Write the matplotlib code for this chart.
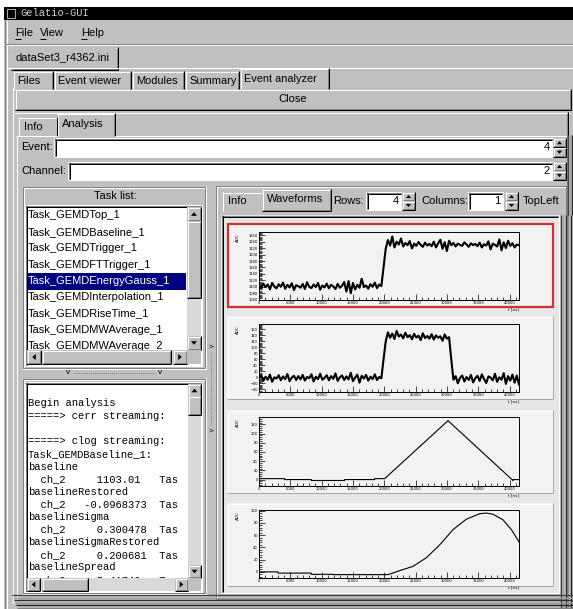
import numpy as np
import matplotlib
matplotlib.use('Agg')
import matplotlib.pyplot as plt
from matplotlib.patches import Rectangle, Polygon
from matplotlib.ticker import MultipleLocator

# ---- GUI content ----
menu_items = ['File', 'View', 'Help']
main_tabs = ['Files', 'Event viewer', 'Modules', 'Summary', 'Event analyzer']
tasks = ['Task_GEMDTop_1', 'Task_GEMDBaseline_1', 'Task_GEMDTrigger_1',
         'Task_GEMDFTTrigger_1', 'Task_GEMDEnergyGauss_1', 'Task_GEMDInterpolation_1',
         'Task_GEMDRiseTime_1', 'Task_GEMDMWAverage_1', 'Task_GEMDMWAverage_2']
selected_task = 4
log_lines = ['Begin analysis', '=====> cerr streaming:', '',
             '=====> clog streaming:', 'Task_GEMDBaseline_1:', 'baseline',
             '  ch_2     1103.01   Tas', 'baselineRestored',
             '  ch_2   -0.0968373  Tas', 'baselineSigma',
             '  ch_2     0.300478  Tas', 'baselineSigmaRestored',
             '  ch_2     0.200681  Tas', 'baselineSpread',
             '  ch_2     5.41740   Tas']
event_no = '4'
channel_no = '2'
rows_no = '4'
cols_no = '1'

# ---- waveform data ----
t_raw = np.linspace(0, 41500, 120)
adc_raw = [1104, 1096, 1110, 1099, 1107, 1092, 1112, 1101, 1095, 1108,
           1100, 1113, 1094, 1106, 1098, 1111, 1090, 1105, 1102, 1097,
           1109, 1093, 1114, 1100, 1096, 1107, 1099, 1112, 1091, 1104,
           1098, 1110, 1095, 1106, 1101, 1093, 1109, 1097, 1103, 1115,
           1085, 1118, 1080, 1112, 1092, 1106, 1097, 1125, 1099, 1104,
           1094, 1108, 1100, 1113, 1096, 1107, 1102,
           1160, 1218,
           1245, 1228, 1256, 1222, 1240, 1231, 1250, 1225, 1236, 1229, 1242,
           1219, 1234, 1227, 1239, 1230, 1224, 1237, 1228, 1233, 1226,
           1240, 1222, 1235, 1246, 1218, 1238, 1211, 1243, 1229, 1236,
           1225, 1234, 1230, 1227, 1238, 1231, 1224, 1235, 1229, 1233,
           1226, 1237, 1222, 1232, 1228, 1241, 1216, 1234, 1230, 1225,
           1247, 1213, 1238, 1220, 1243, 1227, 1235, 1222, 1231, 1229]
adc_restored = [-5, 6, -12, 2, -8, 9, -15, 0, -4, 7,
                -10, 3, -6, 11, -13, -1, 5, -9, 4, -7,
                8, -11, 1, -3, 10, -14, 2, -6, 12, -8,
                -2, 7, -10, 4, -5, 13, -12, 0, 6, -9,
                3, -7, 15, -13, -1, 9, -18, 5, -4, 8,
                -11, 2, -6, 10, -9, 1, -3,
                60, 120,
                150, 132, 146, 128, 155, 136, 143, 130, 149, 134, 141,
                127, 145, 133, 139, 124, 147, 131, 138, 129, 144,
                126, 140, 132, 137, 122, 143, 129, 134,
                60,
                -8, 4, -20, -2, 6, -14, 1, -9, 8, -17, -3,
                5, -12, 10, -6, -19, 3, -1, -10, 12, -15,
                0, -8, 14, -22, 4, -11, 9, -18, 6, -24]
trap_t = [0, 4100, 4100, 8350, 8350, 13670, 13670, 18460, 18460, 20060,
          30170, 40540, 40540, 41500]
trap_v = [2, 2, 0, 0, -2, -2, 0, 0, 2, 2, 128, -2, 0, 0]
gauss_t = [0, 3030, 3030, 8350, 8350, 11810, 11810, 20600, 22450, 24580,
           26710, 28840, 30970, 33100, 35230, 36290, 37350, 38950, 40280, 41500]
gauss_v = [0, 0, -2, -2, -4, -4, -4.5, -4.5, 2, 9,
           23, 44, 69, 86, 95, 96, 94, 85, 69, 49]

BG = '#c0c0c0'
DARK = '#808080'
TRACK = '#d9d9d9'
PAD = '#f2f2f2'
W, H = 573, 609

fig = plt.figure(figsize=(W / 100, H / 100), dpi=100)
fig.patch.set_facecolor('white')
g = fig.add_axes([0, 0, 1, 1])
g.set_xlim(0, W)
g.set_ylim(H, 0)
g.axis('off')

SANS = 'Liberation Sans'
MONO = 'Liberation Mono'


def rect(x0, y0, x1, y1, fc, z=1):
    g.add_patch(Rectangle((x0, y0), x1 - x0, y1 - y0, facecolor=fc,
                          edgecolor='none', zorder=z))


def hl(x0, x1, y, c, z=2, lw=1):
    g.plot([x0, x1], [y, y], color=c, lw=0.72 * lw, zorder=z, solid_capstyle='butt')


def vl(x, y0, y1, c, z=2, lw=1):
    g.plot([x, x], [y0, y1], color=c, lw=0.72 * lw, zorder=z, solid_capstyle='butt')


def raised(x0, y0, x1, y1, fc=BG, z=2):
    rect(x0, y0, x1, y1, fc, z)
    hl(x0, x1, y0 + 0.5, 'white', z)
    vl(x0 + 0.5, y0, y1, 'white', z)
    hl(x0, x1, y1 - 0.5, 'black', z)
    vl(x1 - 0.5, y0, y1, 'black', z)
    hl(x0 + 1, x1 - 1, y1 - 1.5, DARK, z)
    vl(x1 - 1.5, y0 + 1, y1 - 1, DARK, z)


def sunken(x0, y0, x1, y1, fc='white', z=2):
    rect(x0, y0, x1, y1, fc, z)
    hl(x0, x1, y0 + 0.5, DARK, z)
    vl(x0 + 0.5, y0, y1, DARK, z)
    hl(x0 + 1, x1 - 1, y0 + 1.5, 'black', z)
    vl(x0 + 1.5, y0 + 1, y1 - 1, 'black', z)
    hl(x0, x1, y1 - 0.5, 'white', z)
    vl(x1 - 0.5, y0, y1, 'white', z)


def etched(x0, y0, x1, y1, z=2):
    for off, c in ((0.5, DARK), (1.5, 'white')):
        hl(x0 + off, x1 - off, y0 + off, c, z)
        vl(x0 + off, y0 + off, y1 - off, c, z)
    hl(x0, x1, y1 - 0.5, 'white', z)
    vl(x1 - 0.5, y0, y1, 'white', z)
    hl(x0 + 1, x1 - 1, y1 - 1.5, DARK, z)
    vl(x1 - 1.5, y0 + 1, y1 - 1, DARK, z)


def arrow(cx, cy, d, s=2.8, z=4):
    pts = {'up': [(cx - s, cy + s * 0.6), (cx + s, cy + s * 0.6), (cx, cy - s * 0.6)],
           'down': [(cx - s, cy - s * 0.6), (cx + s, cy - s * 0.6), (cx, cy + s * 0.6)],
           'left': [(cx + s * 0.6, cy - s), (cx + s * 0.6, cy + s), (cx - s * 0.6, cy)],
           'right': [(cx - s * 0.6, cy - s), (cx - s * 0.6, cy + s), (cx + s * 0.6, cy)]}[d]
    g.add_patch(Polygon(pts, closed=True, facecolor='black', edgecolor='none', zorder=z))


def spin(x0, y0, x1, y1, z=3):
    ym = (y0 + y1) / 2
    raised(x0, y0, x1, ym, z=z)
    raised(x0, ym, x1, y1, z=z)
    arrow((x0 + x1) / 2, (y0 + ym) / 2, 'up', 2.6, z + 1)
    arrow((x0 + x1) / 2, (ym + y1) / 2, 'down', 2.6, z + 1)


def vscroll(x0, x1, y0, y1, t0, t1, z=5):
    rect(x0, y0, x1, y1, TRACK, z)
    b = x1 - x0
    raised(x0, y0, x1, y0 + b, z=z)
    arrow((x0 + x1) / 2, y0 + b / 2, 'up', 3, z + 1)
    raised(x0, y1 - b, x1, y1, z=z)
    arrow((x0 + x1) / 2, y1 - b / 2, 'down', 3, z + 1)
    raised(x0, t0, x1, t1, z=z)


def hscroll(x0, x1, y0, y1, t0, t1, z=5):
    rect(x0, y0, x1, y1, TRACK, z)
    b = y1 - y0
    raised(x0, y0, x0 + b, y1, z=z)
    arrow(x0 + b / 2, (y0 + y1) / 2, 'left', 3, z + 1)
    raised(x1 - b, y0, x1, y1, z=z)
    arrow(x1 - b / 2, (y0 + y1) / 2, 'right', 3, z + 1)
    raised(t0, y0, t1, y1, z=z)


def txt(x, y, s, size=8, fam=SANS, c='black', ha='left', z=6, **kw):
    g.text(x, y, s, fontsize=size, family=fam, color=c, ha=ha, va='center',
           zorder=z, **kw)


# window body and title bar
rect(4, 7, W, H, BG, 0)
rect(4, 7, W, 20, 'black', 1)
g.add_patch(Rectangle((7, 9), 8, 9, facecolor='none', edgecolor='#b0b0b0',
                      lw=0.7, zorder=2))
txt(20, 13.5, 'Gelatio-GUI', 7.5, MONO, '#d0d0d0')
vl(4.5, 20, H, DARK)
vl(6.5, 20, H, 'white')

# menu bar
menu_x = [15, 40, 81]
for s, x in zip(menu_items, menu_x):
    txt(x, 33, s, 8)
    hl(x, x + 6, 38.5, 'black', 7)
hl(6, W, 43.5, DARK)
hl(6, W, 44.5, 'white')

# file tab
raised(11, 47, 118, 70)
rect(12, 48, 116, 68, BG, 3)
txt(16, 57, 'dataSet3_r4362.ini', 8)
hl(6, W, 67.5, 'white', 2)

# main tabs
tab_x = [(13, 53), (54, 131), (132, 184), (185, 239), (240, 329)]
for i, (s, (x0, x1)) in enumerate(zip(main_tabs, tab_x)):
    top = 68 if i == 4 else 71
    hl(x0, x1, top + 0.5, 'white', 3)
    vl(x0 + 0.5, top, 89, 'white', 3)
    vl(x1 - 0.5, top, 89, 'black', 3)
    vl(x1 - 1.5, top + 1, 89, DARK, 3)
    txt(x0 + 4, 79 if i == 4 else 81, s, 7.9)
hl(12, 240, 88.5, 'white', 2)
hl(329, 571, 88.5, 'white', 2)
vl(12.5, 88, 603, 'white', 2)

# close button
raised(15, 89, 571, 110)
txt(293, 99.5, 'Close', 8, ha='center')

# analysis sub-tabs
hl(14, 570, 112.5, 'white', 2)
hl(18, 57, 117.5, 'white', 3)
vl(18.5, 117, 136, 'white', 3)
vl(56.5, 117, 136, 'black', 3)
txt(24, 127, 'Info', 8)
hl(57, 115, 113.5, 'white', 3)
vl(57.5, 113, 136, 'white', 3)
vl(114.5, 113, 136, 'black', 3)
vl(113.5, 114, 136, DARK, 3)
txt(62, 124, 'Analysis', 8)
hl(16, 57, 135.5, 'white', 3)
hl(115, 568, 135.5, 'white', 3)
vl(16.5, 135, 600, 'white', 3)
vl(567.5, 112, 600, 'black', 3)
vl(566.5, 113, 600, DARK, 3)

# event / channel fields
txt(21, 147, 'Event:', 8)
sunken(54, 138, 553, 157)
txt(550, 147.5, event_no, 8, ha='right')
spin(553, 138, 566, 157)
txt(21, 171, 'Channel:', 8)
sunken(68, 162, 553, 180)
txt(550, 171, channel_no, 8, ha='right')
spin(553, 162, 566, 180)

# task list group
etched(22, 186, 206, 369)
txt(115, 196, 'Task list:', 8, ha='center')
sunken(25, 205, 202, 366)
rect(28, 273, 186, 289.5, '#000080', 3)
for i, s in enumerate(tasks):
    txt(28, 215.5 + 16.35 * i, s, 8, c='white' if i == selected_task else 'black', z=4)
vscroll(187, 201, 207, 350, 221, 298)
hscroll(27, 187, 350, 364, 42, 171)
rect(187, 350, 201, 364, BG, 5)

# horizontal splitter
for x in (68, 160):
    txt(x, 372.5, 'v', 6, c='black', ha='center')
g.plot([74, 154], [372.5, 372.5], color='#606060', lw=0.6, ls=(0, (1, 1.5)), zorder=3)

# log text panel
etched(22, 378, 206, 594)
sunken(25, 382, 202, 592)
for i, s in enumerate(log_lines):
    if s:
        txt(28, 403.5 + 12.6 * i, s, 7.6, MONO, z=4)
vscroll(188, 201, 384, 578, 396, 415)
hscroll(27, 188, 578, 591, 42, 88)
rect(188, 578, 201, 591, BG, 5)

# vertical splitter
txt(211, 347, '>', 6, ha='center')
txt(211, 431, '>', 6, ha='center')
g.plot([211, 211], [353, 425], color='#606060', lw=0.6, ls=(0, (1, 1.5)), zorder=3)

# right panel with tabs and controls
etched(215, 185, 567, 600)
hl(222, 262, 192.5, 'white', 3)
vl(222.5, 192, 211, 'white', 3)
txt(228, 201.5, 'Info', 8)
raised(262, 189, 331, 211)
txt(267, 199.5, 'Waveforms', 8)
txt(333, 201, 'Rows:', 8)
sunken(366, 192, 402, 210)
txt(399, 201, rows_no, 8, ha='right')
spin(402, 192, 415, 210)
txt(421, 201, 'Columns:', 8)
sunken(468, 192, 503, 210)
txt(500, 201, cols_no, 8, ha='right')
spin(505, 192, 518, 210)
txt(523, 201, 'TopLeft', 8)

# embedded canvas
sunken(221, 215, 559, 593, fc='#e6e6e6')
pads = [(227, 223, 553, 307), (227, 316, 553, 399), (227, 410, 553, 493), (227, 503, 553, 586)]
for i, (x0, y0, x1, y1) in enumerate(pads):
    rect(x0, y0, x1, y1, PAD, 3)
    hl(x0, x1, y0 + 0.5, 'white', 4)
    vl(x0 + 0.5, y0, y1, 'white', 4)
    hl(x0, x1, y1 - 0.5, '#a8a8a8', 4)
    vl(x1 - 0.5, y0, y1, '#a8a8a8', 4)
    if i == 0:
        g.add_patch(Rectangle((x0 + 0.5, y0 + 0.5), x1 - x0 - 1, y1 - y0 - 1,
                              facecolor='none', edgecolor='#d03030', lw=1.6, zorder=5))

# heavy frame lines at right and bottom
for k, c in enumerate(['#404040', '#a0a0a0', '#303030', '#909090', '#202020']):
    vl(560.5 + 2.5 * k, 215, 609, c, 7, 1.3)
for k, c in enumerate(['#404040', '#a0a0a0', '#202020']):
    vl(567.5 + 2.2 * k, 135, 215, c, 7, 1.3)
for k, c in enumerate(['#404040', '#a0a0a0', '#303030', '#909090', '#202020', '#808080']):
    hl(12 + k, W, 595 + 2.5 * k, c, 7, 1.3)

# ---- waveform pads ----
axes_px = [(259, 232, 519, 300), (259, 324, 519, 392), (259, 417, 519, 486), (259, 510, 519, 578)]
series = [(t_raw, adc_raw, (1059, 1270), 1.5),
          (t_raw, adc_restored, (-49, 178), 1.5),
          (trap_t, trap_v, (-14, 136), 0.8),
          (gauss_t, gauss_v, (-10, 101), 0.8)]

for (x0, y0, x1, y1), (tt, vv, ylim, lw) in zip(axes_px, series):
    ax = fig.add_axes([x0 / W, 1 - y1 / H, (x1 - x0) / W, (y1 - y0) / H])
    ax.set_facecolor(PAD)
    ax.plot(tt, vv, color='black', lw=lw)
    ax.set_xlim(0, 41500)
    ax.set_ylim(*ylim)
    ax.xaxis.set_major_locator(MultipleLocator(5000))
    ax.xaxis.set_minor_locator(MultipleLocator(1000))
    ax.yaxis.set_major_locator(MultipleLocator(20))
    ax.yaxis.set_minor_locator(MultipleLocator(4))
    ax.tick_params(which='both', direction='in', labelsize=2.6, width=0.5, pad=0.8,
                   top=False, right=False)
    ax.tick_params(which='major', length=4)
    ax.tick_params(which='minor', length=2)
    for sp in ax.spines.values():
        sp.set_linewidth(0.7)
    fig.text(238 / W, 1 - (y0 + 1) / H, 'ADC', fontsize=3, rotation=90,
             ha='center', va='top')
    fig.text(519 / W, 1 - (y1 + 9) / H, 't [ns]', fontsize=3, ha='right', va='center')

fig.savefig('out.png', dpi=100)
